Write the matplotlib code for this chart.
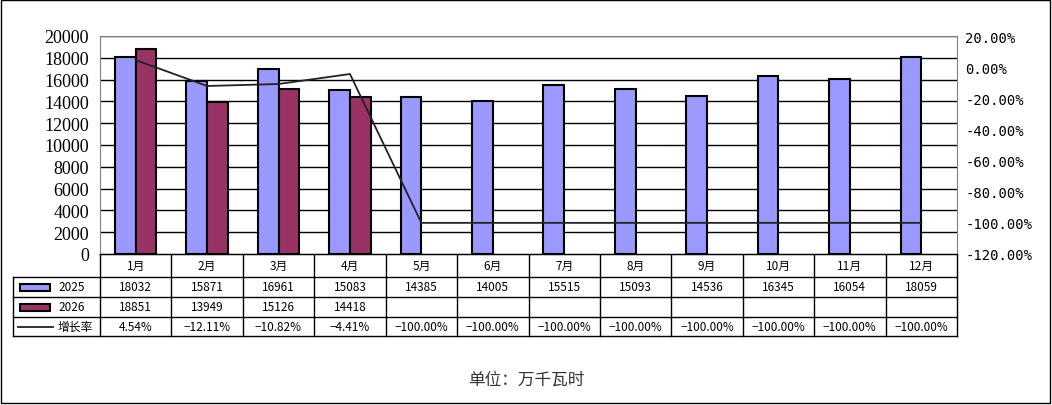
import numpy as np
import matplotlib.pyplot as plt
from matplotlib.patches import Rectangle

months = ["1月", "2月", "3月", "4月", "5月", "6月", "7月", "8月", "9月", "10月", "11月", "12月"]
v2025 = [18032, 15871, 16961, 15083, 14385, 14005, 15515, 15093, 14536, 16345, 16054, 18059]
v2026 = [18851, 13949, 15126, 14418]
growth = [4.54, -12.11, -10.82, -4.41, -100, -100, -100, -100, -100, -100, -100, -100]

plt.rcParams['font.family'] = ['Noto Sans CJK SC', 'DejaVu Sans']
W, H = 1052, 406
fig = plt.figure(figsize=(W / 100, H / 100), dpi=100)

# overlay axes in pixel coordinates for the data table and frame
ov = fig.add_axes([0, 0, 1, 1])
ov.set_xlim(0, W)
ov.set_ylim(H, 0)
ov.axis("off")
ov.add_patch(Rectangle((1, 1), W - 3, H - 3, fill=False, lw=1, ec="black"))

L, R, T, B = 100, 957, 37, 255
ax = fig.add_axes([L / W, 1 - B / H, (R - L) / W, (B - T) / H])
x = np.arange(len(months))
bw = 0.29
ax.bar(x - bw / 2, v2025, bw, color="#9999ff", edgecolor="black", lw=1.5, zorder=3)
ax.bar(x[:len(v2026)] + bw / 2, v2026, bw, color="#993366", edgecolor="black", lw=1.5, zorder=3)
ax.set_xlim(-0.5, len(months) - 0.5)
ax.set_ylim(0, 20000)
ax.set_yticks(range(0, 20001, 2000))
ax.yaxis.grid(True, color="black", lw=1)
ax.set_axisbelow(True)
ax.set_xticks([])
ax.tick_params(axis="y", length=0, labelsize=13, labelcolor="#000000", pad=8)
for lab in ax.get_yticklabels():
    lab.set_family("Liberation Serif")
for s in ax.spines.values():
    s.set_color("#808080")
ax.spines["bottom"].set_color("black")

ax2 = ax.twinx()
ax2.plot(x, growth, color="#222222", lw=1.3, zorder=4)
ax2.set_ylim(-120, 20)
ax2.set_yticks(range(-120, 21, 20))
ax2.set_yticklabels([f"{t:.2f}%" for t in range(-120, 21, 20)], family="DejaVu Sans Mono", fontsize=10)
ax2.tick_params(axis="y", length=0, pad=6)
for s in ax2.spines.values():
    s.set_visible(False)

# data table
rows = [255, 278, 298, 318, 337]
cw = (R - L) / len(months)
lk = dict(color="black", lw=1)
ov.plot([L, R], [rows[0], rows[0]], **lk)
for yy in rows[1:]:
    ov.plot([13, R], [yy, yy], **lk)
ov.plot([13, 13], [rows[1], rows[-1]], **lk)
for i in range(len(months) + 1):
    ov.plot([L + i * cw] * 2, [rows[0], rows[-1]], **lk)
fs = 8.5
for i, m in enumerate(months):
    cx = L + (i + 0.5) * cw
    ov.text(cx, (rows[0] + rows[1]) / 2, m, ha="center", va="center", fontsize=fs)
    ov.text(cx, (rows[1] + rows[2]) / 2, str(v2025[i]), ha="center", va="center", fontsize=fs)
    if i < len(v2026):
        ov.text(cx, (rows[2] + rows[3]) / 2, str(v2026[i]), ha="center", va="center", fontsize=fs)
    ov.text(cx, (rows[3] + rows[4]) / 2, f"{growth[i]:.2f}%".replace("-", "−"), ha="center", va="center", fontsize=fs)
names = ["2025", "2026", "增长率"]
for j, (nm, col) in enumerate(zip(names, ["#9999ff", "#993366", None])):
    cy = (rows[j + 1] + rows[j + 2]) / 2
    if col:
        ov.add_patch(Rectangle((20, cy - 3.5), 30, 7, fc=col, ec="black", lw=1.5))
    else:
        ov.plot([18, 53], [cy, cy], color="#222222", lw=1.3)
    ov.text(58, cy, nm, ha="left", va="center", fontsize=fs)

ov.text(W / 2, 380, "单位：万千瓦时", ha="center", va="center", fontsize=12, color="#333333")

fig.savefig("out.png", dpi=100)
